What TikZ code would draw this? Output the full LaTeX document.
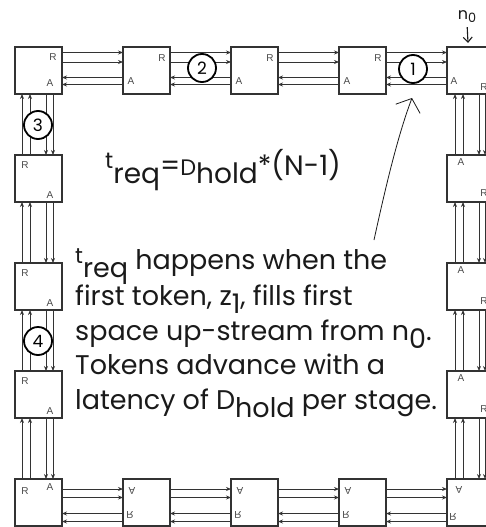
\documentclass[tikz,border=0pt]{standalone}
\usepackage{fontspec}
\usepackage{graphicx}
\setmainfont{Poppins}
\setsansfont{Liberation Sans}
\usetikzlibrary{arrows.meta,positioning}
\definecolor{ink}{HTML}{1A1A1A}
\definecolor{wire}{HTML}{333333}
\definecolor{portgray}{HTML}{4A4A4A}
\newcommand{\lo}[1]{\raisebox{-8pt}{#1}}
\newcommand{\sm}[1]{\scalebox{0.8}{#1}}
\newcommand{\flipped}[1]{\scalebox{1}[-1]{#1}}

\begin{document}
\begin{tikzpicture}[
  x=1pt, y=-1pt,
  node distance=61pt,
  stage/.style={rectangle, draw=wire, line width=1.2pt, fill=white, minimum size=47pt, inner sep=0pt, outer sep=0pt},
  port/.style={font=\sffamily\fontsize{10}{10}\selectfont, text=portgray, inner sep=0pt, anchor=center},
  tlbox/.style={label={[port,xshift=-9pt,yshift=-10pt]north east:R}, label={[port,xshift=-12pt,yshift=11pt]south east:A}},
  topbox/.style={label={[port,xshift=-8pt,yshift=-11pt]north east:R}, label={[port,xshift=8pt,yshift=13pt]south west:A}},
  nbox/.style={label={[port,xshift=7pt,yshift=13pt]south west:A}, label={[port,xshift=-10pt,yshift=7pt]south east:R}},
  rightbox/.style={label={[port,xshift=14pt,yshift=-7pt]north west:A}, label={[port,xshift=-10pt,yshift=9pt]south east:R}},
  brbox/.style={label={[port,xshift=12pt,yshift=-11pt]north west:\flipped{A}}, label={[port,xshift=6pt,yshift=9pt]south west:\flipped{R}}},
  botbox/.style={label={[port,xshift=9pt,yshift=-12pt]north west:\flipped{A}}, label={[port,xshift=7pt,yshift=11pt]south west:\flipped{R}}},
  blbox/.style={label={[port,xshift=10pt,yshift=-12pt]north west:R}, label={[port,xshift=-12pt,yshift=-8pt]north east:A}},
  leftbox/.style={label={[port,xshift=10pt,yshift=-10pt]north west:R}, label={[port,xshift=-12pt,yshift=7pt]south east:A}},
  link/.style={draw=wire, line width=0.9pt, -{Stealth[length=5pt,width=4pt]}},
  token/.style={circle, draw=black, line width=1.8pt, fill=white, minimum size=28pt, inner sep=0pt, font=\fontsize{17}{17}\selectfont},
  pointer/.style={draw=ink, line width=1.1pt, -{Straight Barb[length=5pt,width=9pt]}},
  note/.style={draw=ink, line width=0.8pt, -{Straight Barb[length=11pt,width=26pt]}}
]
\useasboundingbox (0,0) rectangle (486,527);

% the ring of stages
\node[stage, tlbox] (tl) at (38.5,70.5) {};
\node[stage, topbox, right=of tl] (t2) {};
\node[stage, topbox, right=of t2] (t3) {};
\node[stage, topbox, right=of t3] (t4) {};
\node[stage, nbox, right=of t4] (n0) {};
\node[stage, rightbox, below=of n0] (r2) {};
\node[stage, rightbox, below=of r2] (r3) {};
\node[stage, rightbox, below=of r3] (r4) {};
\node[stage, brbox, below=of r4] (br) {};
\node[stage, botbox, left=of br] (b4) {};
\node[stage, botbox, left=of b4] (b3) {};
\node[stage, botbox, left=of b3] (b2) {};
\node[stage, blbox, left=of b2] (bl) {};
\node[stage, leftbox, above=of bl] (l4) {};
\node[stage, leftbox, above=of l4] (l3) {};
\node[stage, leftbox, above=of l3] (l2) {};

% request / acknowledge wires
\foreach \a/\b in {tl/t2,t2/t3,t3/t4,t4/n0}{
  \foreach \off in {5.5,15}
    \draw[link] ([yshift=-\off pt]\a.north east) -- ([yshift=-\off pt]\b.north west);
  \foreach \off in {9.5,16.5}
    \draw[link] ([yshift=\off pt]\b.south west) -- ([yshift=\off pt]\a.south east);
}
\foreach \a/\b in {n0/r2,r2/r3,r3/r4,r4/br}{
  \foreach \off in {15,9}
    \draw[link] ([xshift=-\off pt]\a.south east) -- ([xshift=-\off pt]\b.north east);
  \foreach \off in {8,16}
    \draw[link] ([xshift=\off pt]\b.north west) -- ([xshift=\off pt]\a.south west);
}
\foreach \a/\b in {bl/b2,b2/b3,b3/b4,b4/br}{
  \foreach \off in {10,18.5}
    \draw[link] ([yshift=-\off pt]\a.north east) -- ([yshift=-\off pt]\b.north west);
  \foreach \off in {4.5,12.5}
    \draw[link] ([yshift=\off pt]\b.south west) -- ([yshift=\off pt]\a.south east);
}
\foreach \a/\b in {tl/l2,l2/l3,l3/l4,l4/bl}{
  \foreach \off in {16,9}
    \draw[link] ([xshift=-\off pt]\a.south east) -- ([xshift=-\off pt]\b.north east);
  \foreach \off in {7,15}
    \draw[link] ([xshift=\off pt]\b.north west) -- ([xshift=\off pt]\a.south west);
}

% tokens
\node[token] (k1) at (413,69) {1};
\node[token] (k2) at (202,68) {2};
\node[token] (k3) at (38,125) {3};
\node[token] (k4) at (38,341) {4};

% n0 marker
\node[inner sep=0pt, font=\fontsize{16}{16}\selectfont, text=ink] (n0tag) at (467,17) {n\raisebox{-3pt}{\sm{0}}};
\draw[pointer, shorten <=4pt] (n0tag.south) -- ([xshift=-2.5pt,yshift=4pt]n0.north);

% text
\node[anchor=base west, inner sep=0pt, text=ink, font=\fontsize{28}{28}\selectfont] (treq) at (105,175)
  {\raisebox{7pt}{\sm{t}}\lo{req}=\sm{D}\lo{hold}*(N-1)};
\node[anchor=north west, inner sep=0pt, align=left, text=ink, font=\fontsize{27}{34.5}\selectfont] (story) at (75,248)
  {\raisebox{6pt}{\sm{t}}\lo{req} happens when the\\
   first token, z\lo{1}, fills first\\
   space up-stream from n\lo{0}.\\
   Tokens advance with a\\
   latency of D\lo{hold} per stage.};

\coordinate (foot) at (374,240);
\coordinate (tip) at (412,98);
\draw[note] (foot) .. controls (386,185) and (398,135) .. (tip);
\end{tikzpicture}
\end{document}
